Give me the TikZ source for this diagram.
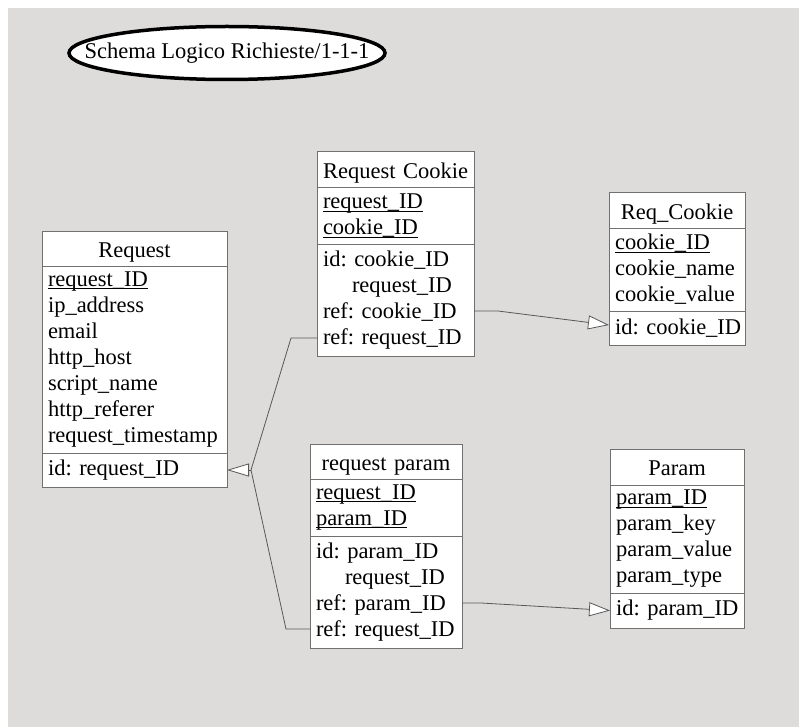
\documentclass[tikz,border=0pt]{standalone}
\usepackage{fontspec}
\setmainfont{Liberation Serif}
\usepackage{tikz}
\usetikzlibrary{positioning,shapes.geometric,arrows.meta}

\definecolor{canvas}{RGB}{221,220,219}
\definecolor{boxline}{RGB}{112,112,112}
\definecolor{linkline}{RGB}{88,88,88}

\newcommand{\tabfont}{\fontsize{22.5}{26}\selectfont\frenchspacing\hyphenpenalty=10000}
\newcommand{\pk}[1]{\leavevmode\setbox0=\hbox{#1}\rlap{\rule[-2.6pt]{\wd0}{0.8pt}}\box0}

\begin{document}
\begin{tikzpicture}[x=1pt,y=-1pt,
    tabtitle/.style={draw=boxline,fill=white,line width=1pt,inner xsep=6pt,inner ysep=0pt,outer sep=0pt,
      font=\tabfont,align=center,text height=20pt,text depth=2.5pt,anchor=north west},
    tabpart/.style={draw=boxline,fill=white,line width=1pt,inner xsep=6pt,inner ysep=0pt,outer sep=0pt,
      font=\tabfont,align=left},
    link/.style={draw=linkline,line width=0.8pt},
    fktip/.style={-{Triangle[length=21pt,width=14pt,fill=white]}}]
    \useasboundingbox (0,0) rectangle (799,727);
    \fill[white] (0,0) rectangle (799,727);
    \fill[canvas] (8,8) rectangle (799,727);

    \node[ellipse,draw=black,line width=3.5pt,fill=white,minimum width=316pt,minimum height=53pt,
      inner sep=0pt,font=\tabfont] (schema) at (227,53) {\makebox[0pt]{Schema Logico Richieste/1-1-1}};

    \node[tabtitle,text width=173pt,minimum height=35pt] (req) at (42,231) {Request};
    \node[tabpart,text width=173pt,minimum height=187pt,below=0pt of req] (reqat)
      {\pk{request\_ID}\\ip\_address\\email\\http\_host\\script\_name\\http\_referer\\request\_timestamp};
    \node[tabpart,text width=173pt,minimum height=34pt,below=0pt of reqat] (reqid) {id:~request\_ID};

    \node[tabtitle,text width=145pt,minimum height=36pt] (rc) at (317,152) {Request~Cookie};
    \node[tabpart,text width=145pt,minimum height=56pt,below=0pt of rc] (rckey)
      {\pk{request\_ID}\\\pk{cookie\_ID}};
    \node[tabpart,text width=145pt,minimum height=112pt,below=0pt of rckey] (rcid)
      {id:~cookie\_ID\\\hspace*{29pt}request\_ID\\ref:~cookie\_ID\\ref:~request\_ID};

    \node[tabtitle,text width=124pt,minimum height=35pt] (ck) at (609,193) {Req\_Cookie};
    \node[tabpart,text width=124pt,minimum height=83pt,below=0pt of ck] (ckat)
      {\pk{cookie\_ID}\\cookie\_name\\cookie\_value};
    \node[tabpart,text width=124pt,minimum height=34pt,below=0pt of ckat] (ckid) {id:~cookie\_ID};

    \node[tabtitle,text width=140pt,minimum height=35pt] (rp) at (310,444) {request~param};
    \node[tabpart,text width=140pt,minimum height=57pt,below=0pt of rp] (rpkey)
      {\pk{request\_ID}\\\pk{param\_ID}};
    \node[tabpart,text width=140pt,minimum height=112pt,below=0pt of rpkey] (rpid)
      {id:~param\_ID\\\hspace*{29pt}request\_ID\\ref:~param\_ID\\ref:~request\_ID};

    \node[tabtitle,text width=122pt,minimum height=36pt] (pa) at (610,449) {Param};
    \node[tabpart,text width=122pt,minimum height=108pt,below=0pt of pa] (paat)
      {\pk{param\_ID}\\param\_key\\param\_value\\param\_type};
    \node[tabpart,text width=122pt,minimum height=35pt,below=0pt of paat] (paid) {id:~param\_ID};

    \coordinate (rcout) at ([yshift=-67pt]rcid.north east);
    \coordinate (rcin) at ([yshift=-94pt]rcid.north west);
    \coordinate (rpout) at ([yshift=-67pt]rpid.north east);
    \coordinate (rpin) at ([yshift=-93pt]rpid.north west);
    \coordinate (fork) at ([xshift=24pt]reqid.east);

    \draw[link,fktip] (rcout) -- ++(24,0) -- ([yshift=3pt]ckid.west);
    \draw[link,fktip] (rpout) -- ++(19,0) -- (paid.west);
    \draw[link] (rcin) -- ++(-26,0) -- (fork);
    \draw[link] (rpin) -- ++(-24,0) -- (fork);
    \draw[link,-{Triangle[length=22pt,width=13pt,fill=white]}] (fork) -- (reqid.east);
\end{tikzpicture}
\end{document}
